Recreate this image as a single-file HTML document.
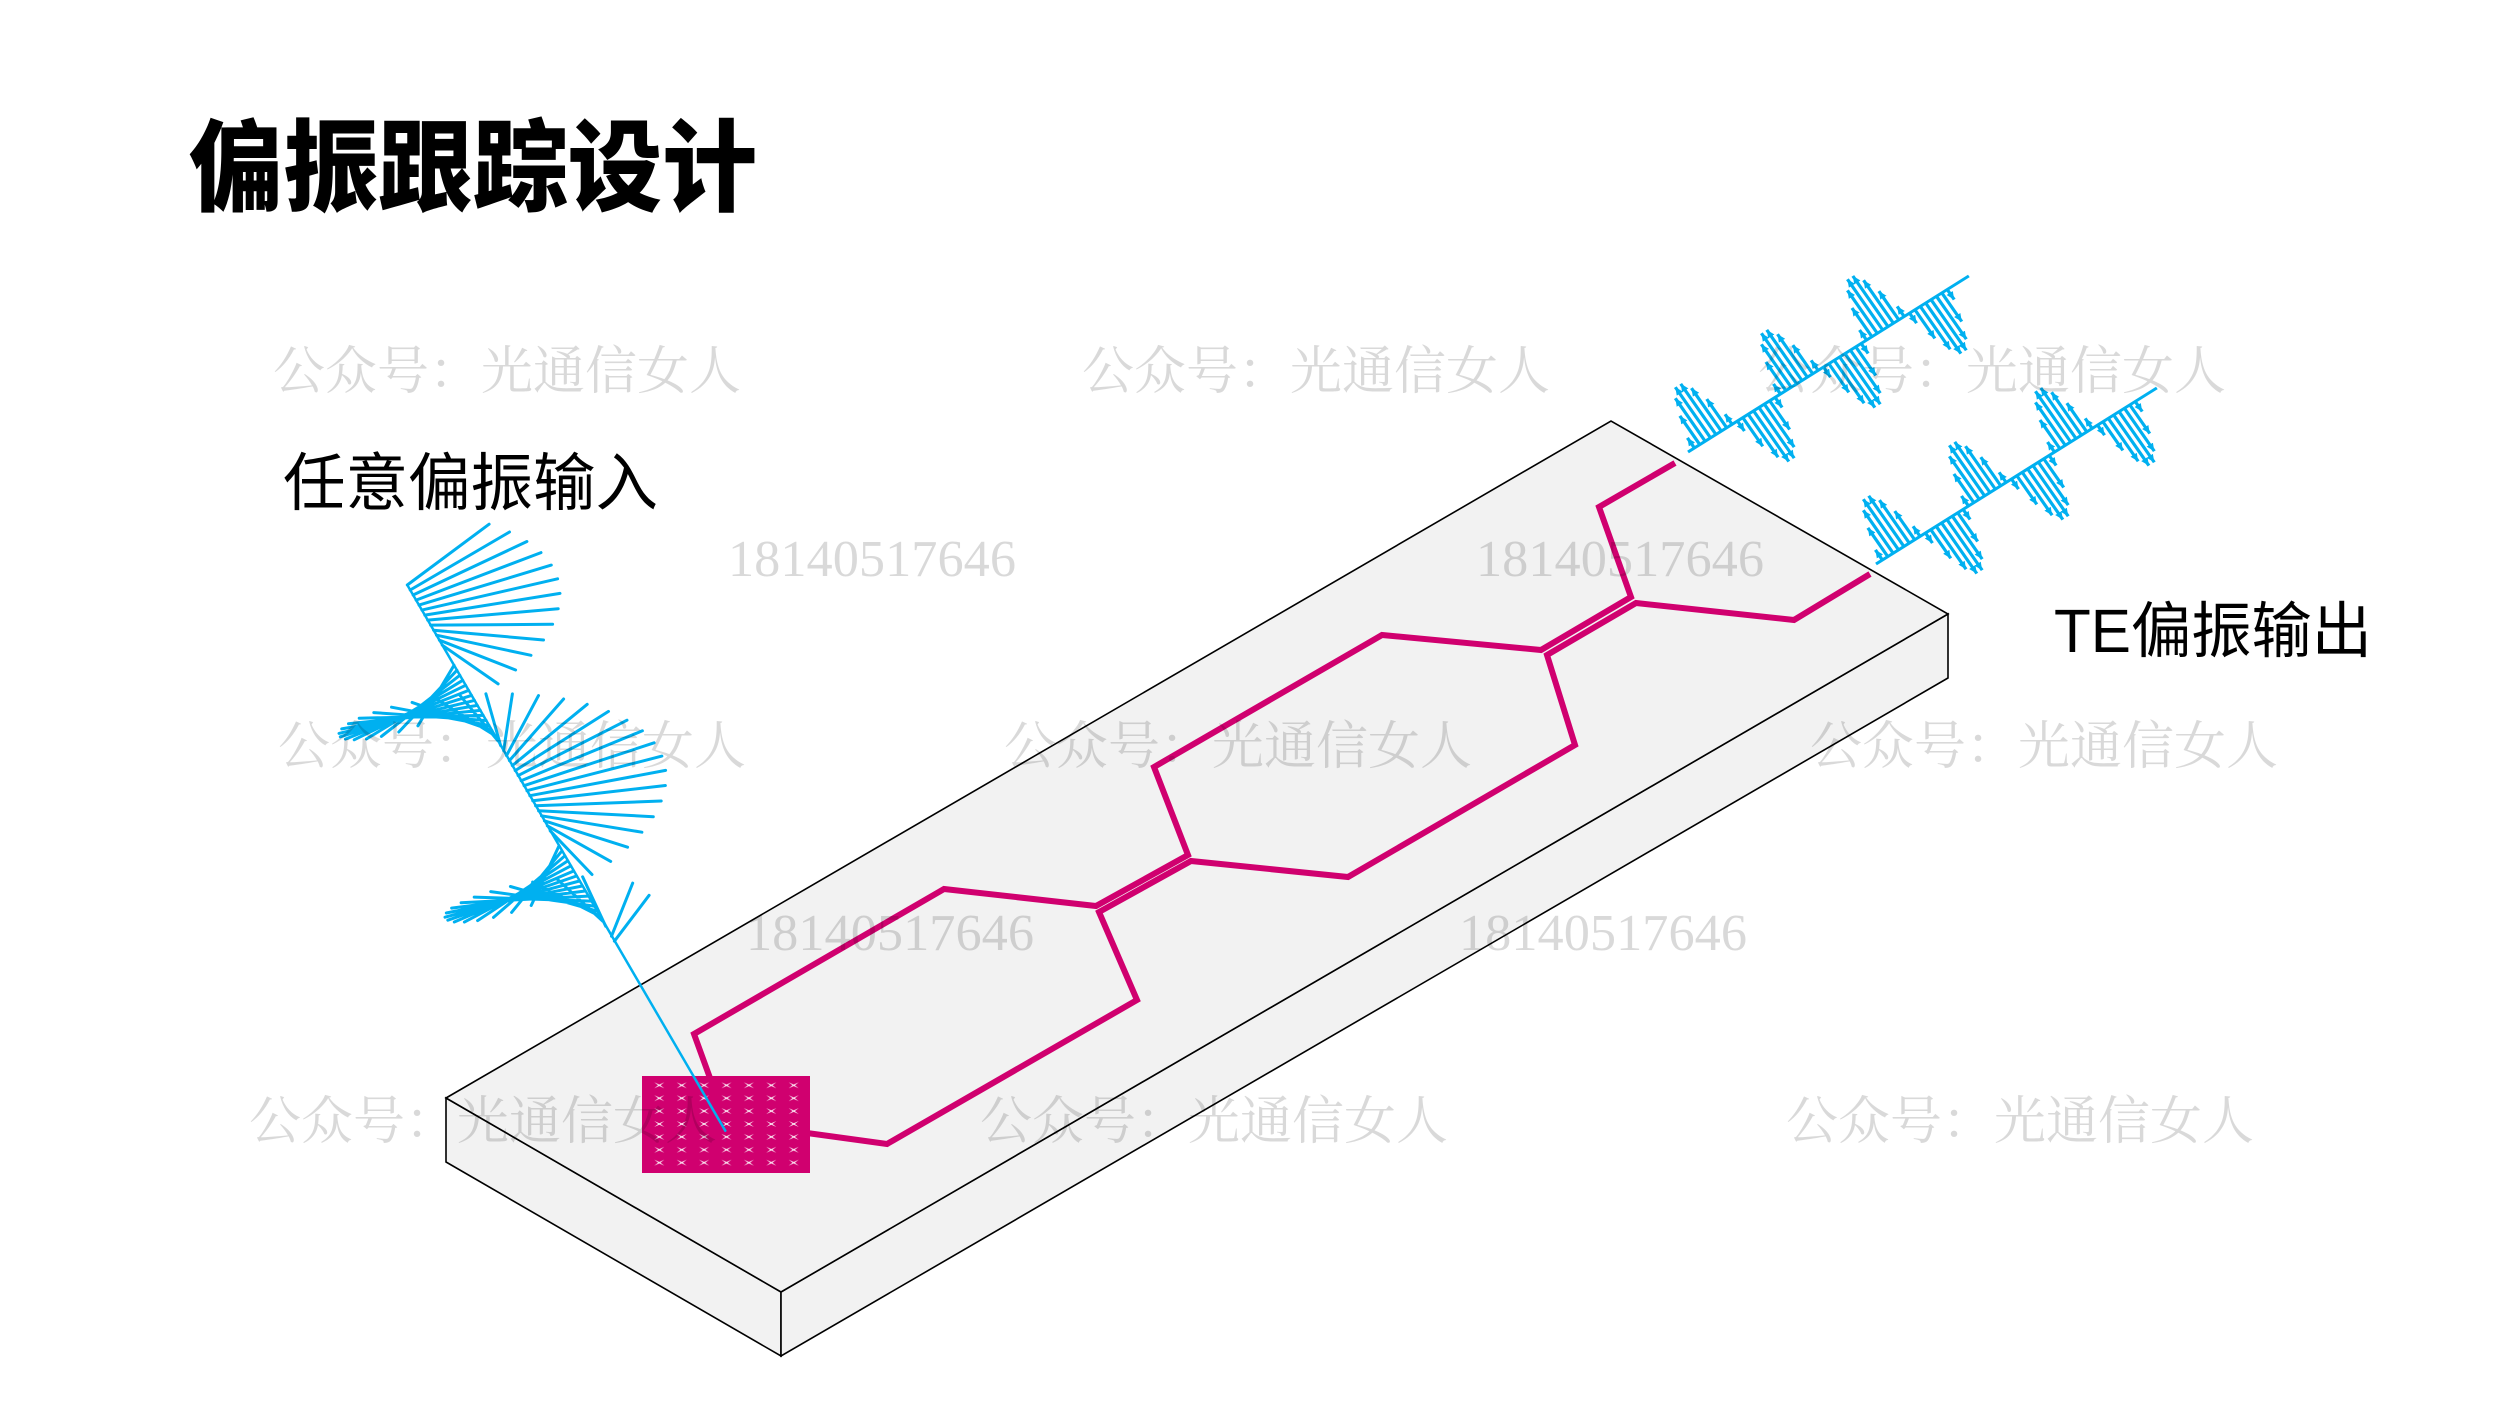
<!DOCTYPE html>
<html>
<head>
<meta charset="utf-8">
<style>
html,body{margin:0;padding:0;background:#fff;}
svg{display:block;}
.wm{font-family:"Liberation Serif","Noto Serif CJK SC",serif;font-size:52px;fill:rgba(0,0,0,0.15);}
</style>
</head>
<body>
<svg width="2500" height="1406" viewBox="0 0 2500 1406" xmlns="http://www.w3.org/2000/svg" xmlns:xlink="http://www.w3.org/1999/xlink">
<defs>
<marker id="ah" viewBox="0 0 8 8" refX="8" refY="4" markerWidth="8" markerHeight="8" orient="auto" markerUnits="userSpaceOnUse">
<path d="M0,0.3 L8,4 L0,7.7 Z" fill="#00b0f0"/>
</marker>
<pattern id="gx" patternUnits="userSpaceOnUse" x="648.1" y="1078.85" width="22.4" height="12.9">
<path d="M6.2,3.45 L11.2,5.65 L16.2,3.45 L12.4,6.45 L16.2,9.45 L11.2,7.25 L6.2,9.45 L10,6.45 Z" fill="#fff" fill-opacity="0.9"/>
</pattern>
</defs>

<text x="189" y="203" textLength="568" lengthAdjust="spacingAndGlyphs" style="font-family:'Liberation Sans','Noto Sans CJK SC',sans-serif;font-size:100px;font-weight:900;fill:#000;">偏振跟踪设计</text>

<g stroke="#000" stroke-width="1.6" fill="#f2f2f2">
<polygon points="446,1098 781,1292 781,1356 446,1162"/>
<polygon points="781,1292 1948,614 1948,678 781,1356"/>
<polygon points="446,1098 1611,421 1948,614 781,1292"/>
</g>

<g fill="none" stroke="#d0006f" stroke-width="6" stroke-linejoin="miter" stroke-miterlimit="10">
<polyline points="710,1078 694,1034 944,889 1096,906 1188,855 1154,767 1382,635 1541,650 1631,597 1599,507 1675,463"/>
<polyline points="807,1133 887,1144 1137,1000 1099,912 1191,861 1348,877 1575,745 1547,655 1636,603 1794,620 1870,574"/>
</g>

<rect x="642" y="1076" width="168" height="97" fill="#d0006f"/>
<rect x="648" y="1079" width="157" height="91" fill="url(#gx)"/>

<g fill="none" stroke="#00b0f0" stroke-linecap="round">
<path stroke-width="2.5" d="M407.3,585 L725.3,1130.7"/>
<path stroke-width="3" d="M407.3,585 L489.1,524.2 M410.2,590.0 L509.5,532.0 M413.1,595.0 L526.9,541.5 M416.1,600.1 L541.0,552.6 M419.0,605.1 L551.3,565.1 M421.9,610.1 L557.6,578.8 M424.8,615.1 L560.0,593.4 M427.7,620.1 L558.2,608.7 M430.6,625.1 L552.6,624.3 M433.6,630.2 L543.5,640.0 M436.5,635.2 L531.0,655.3 M439.4,640.2 L515.6,670.0 M442.3,645.2 L498.1,683.9 M454.0,665.3 L417.9,725.8 M456.9,670.3 L398.8,732.0 M459.8,675.3 L381.4,736.4 M462.7,680.3 L366.4,739.0 M465.6,685.3 L354.2,739.8 M468.6,690.4 L345.4,739.1 M471.5,695.4 L340.3,736.8 M474.4,700.4 L339.0,733.4 M477.3,705.4 L341.7,728.9 M480.2,710.4 L348.5,723.7 M483.1,715.4 L359.2,718.2 M486.1,720.5 L373.8,712.6 M489.0,725.5 L391.5,707.2 M491.9,730.5 L412.1,702.4 M494.8,735.5 L435.2,698.3 M497.7,740.5 L460.0,695.4 M500.6,745.5 L485.9,693.8 M503.6,750.6 L512.4,693.9 M506.5,755.6 L538.5,695.6 M509.4,760.6 L563.6,699.0 M512.3,765.6 L587.2,704.3 M515.2,770.6 L608.5,711.4 M518.1,775.6 L627.0,720.2 M521.1,780.7 L642.4,730.8 M524.0,785.7 L654.1,742.8 M526.9,790.7 L661.9,756.1 M529.8,795.7 L665.6,770.4 M532.7,800.7 L665.4,785.5 M535.6,805.7 L661.2,801.0 M538.6,810.8 L653.3,816.7 M541.5,815.8 L641.9,832.2 M544.4,820.8 L627.6,847.2 M547.3,825.8 L610.7,861.4 M550.2,830.8 L592.0,874.5 M559.0,845.9 L531.2,905.5 M561.9,850.9 L511.6,912.4 M564.8,855.9 L493.5,917.4 M567.7,860.9 L477.6,920.6 M570.7,865.9 L464.4,922.1 M573.6,871.0 L454.3,922.0 M576.5,876.0 L447.8,920.2 M579.4,881.0 L445.0,917.2 M582.3,886.0 L446.3,913.0 M585.2,891.0 L451.6,908.1 M588.2,896.1 L461.1,902.7 M591.1,901.1 L474.2,897.1 M594.0,906.1 L490.7,891.6 M596.9,911.1 L510.4,886.5 M599.8,916.1 L532.6,882.1 M602.7,921.1 L556.9,878.8 M605.7,926.2 L582.6,876.8 M611.5,936.2 L632.7,883.1 M614.4,941.2 L649.1,895.3"/>
</g>

<g id="wave1" transform="matrix(0.847,-0.531,-0.570,-0.820,1688,452)" stroke="#00b0f0" fill="none">
<line x1="0" y1="0" x2="331.6" y2="0" stroke-width="3"/>
<g stroke-width="3.2" marker-end="url(#ah)">
<line x1="7.58" y1="0" x2="7.58" y2="12.3"/><line x1="13.93" y1="0" x2="13.93" y2="35"/><line x1="20.28" y1="0" x2="20.28" y2="52.4"/><line x1="26.63" y1="0" x2="26.63" y2="61.8"/><line x1="32.98" y1="0" x2="32.98" y2="61.8"/><line x1="39.33" y1="0" x2="39.33" y2="52.4"/><line x1="45.68" y1="0" x2="45.68" y2="35"/><line x1="52.03" y1="0" x2="52.03" y2="12.3"/>
<line x1="58.38" y1="0" x2="58.38" y2="-12.3"/><line x1="64.73" y1="0" x2="64.73" y2="-35"/><line x1="71.08" y1="0" x2="71.08" y2="-52.4"/><line x1="77.43" y1="0" x2="77.43" y2="-61.8"/><line x1="83.78" y1="0" x2="83.78" y2="-61.8"/><line x1="90.13" y1="0" x2="90.13" y2="-52.4"/><line x1="96.48" y1="0" x2="96.48" y2="-35"/><line x1="102.83" y1="0" x2="102.83" y2="-12.3"/>
<line x1="109.18" y1="0" x2="109.18" y2="12.3"/><line x1="115.53" y1="0" x2="115.53" y2="35"/><line x1="121.88" y1="0" x2="121.88" y2="52.4"/><line x1="128.23" y1="0" x2="128.23" y2="61.8"/><line x1="134.58" y1="0" x2="134.58" y2="61.8"/><line x1="140.93" y1="0" x2="140.93" y2="52.4"/><line x1="147.28" y1="0" x2="147.28" y2="35"/><line x1="153.63" y1="0" x2="153.63" y2="12.3"/>
<line x1="159.98" y1="0" x2="159.98" y2="-12.3"/><line x1="166.33" y1="0" x2="166.33" y2="-35"/><line x1="172.68" y1="0" x2="172.68" y2="-52.4"/><line x1="179.03" y1="0" x2="179.03" y2="-61.8"/><line x1="185.38" y1="0" x2="185.38" y2="-61.8"/><line x1="191.73" y1="0" x2="191.73" y2="-52.4"/><line x1="198.08" y1="0" x2="198.08" y2="-35"/><line x1="204.43" y1="0" x2="204.43" y2="-12.3"/>
<line x1="210.78" y1="0" x2="210.78" y2="12.3"/><line x1="217.13" y1="0" x2="217.13" y2="35"/><line x1="223.48" y1="0" x2="223.48" y2="52.4"/><line x1="229.83" y1="0" x2="229.83" y2="61.8"/><line x1="236.18" y1="0" x2="236.18" y2="61.8"/><line x1="242.53" y1="0" x2="242.53" y2="52.4"/><line x1="248.88" y1="0" x2="248.88" y2="35"/><line x1="255.23" y1="0" x2="255.23" y2="12.3"/>
<line x1="261.58" y1="0" x2="261.58" y2="-12.3"/><line x1="267.93" y1="0" x2="267.93" y2="-35"/><line x1="274.28" y1="0" x2="274.28" y2="-52.4"/><line x1="280.63" y1="0" x2="280.63" y2="-61.8"/><line x1="286.98" y1="0" x2="286.98" y2="-61.8"/><line x1="293.33" y1="0" x2="293.33" y2="-52.4"/><line x1="299.68" y1="0" x2="299.68" y2="-35"/><line x1="306.03" y1="0" x2="306.03" y2="-12.3"/>
</g>
</g>
<use href="#wave1" xlink:href="#wave1" transform="translate(188,112)"/>

<text x="283" y="505" textLength="375" lengthAdjust="spacingAndGlyphs" style="font-family:'Liberation Sans','Noto Sans CJK SC',sans-serif;font-size:63px;fill:#000;">任意偏振输入</text>
<text x="2054" y="652" textLength="318" lengthAdjust="spacingAndGlyphs" style="font-family:'Liberation Sans','Noto Sans CJK SC',sans-serif;font-size:61px;fill:#000;">TE偏振输出</text>

<text class="wm" x="273" y="389" textLength="468" lengthAdjust="spacingAndGlyphs">公众号：光通信女人</text>
<text class="wm" x="1082" y="389" textLength="468" lengthAdjust="spacingAndGlyphs">公众号：光通信女人</text>
<text class="wm" x="1758" y="389" textLength="468" lengthAdjust="spacingAndGlyphs">公众号：光通信女人</text>
<text class="wm" x="278" y="764" textLength="468" lengthAdjust="spacingAndGlyphs">公众号：光通信女人</text>
<text class="wm" x="1004" y="764" textLength="468" lengthAdjust="spacingAndGlyphs">公众号：光通信女人</text>
<text class="wm" x="1810" y="764" textLength="468" lengthAdjust="spacingAndGlyphs">公众号：光通信女人</text>
<text class="wm" x="249" y="1139" textLength="468" lengthAdjust="spacingAndGlyphs">公众号：光通信女人</text>
<text class="wm" x="980" y="1139" textLength="468" lengthAdjust="spacingAndGlyphs">公众号：光通信女人</text>
<text class="wm" x="1786" y="1139" textLength="468" lengthAdjust="spacingAndGlyphs">公众号：光通信女人</text>
<text class="wm" x="728" y="576" textLength="288" lengthAdjust="spacingAndGlyphs">18140517646</text>
<text class="wm" x="1476" y="576" textLength="288" lengthAdjust="spacingAndGlyphs">18140517646</text>
<text class="wm" x="746" y="950" textLength="288" lengthAdjust="spacingAndGlyphs">18140517646</text>
<text class="wm" x="1459" y="950" textLength="288" lengthAdjust="spacingAndGlyphs">18140517646</text>
</svg>
</body>
</html>
